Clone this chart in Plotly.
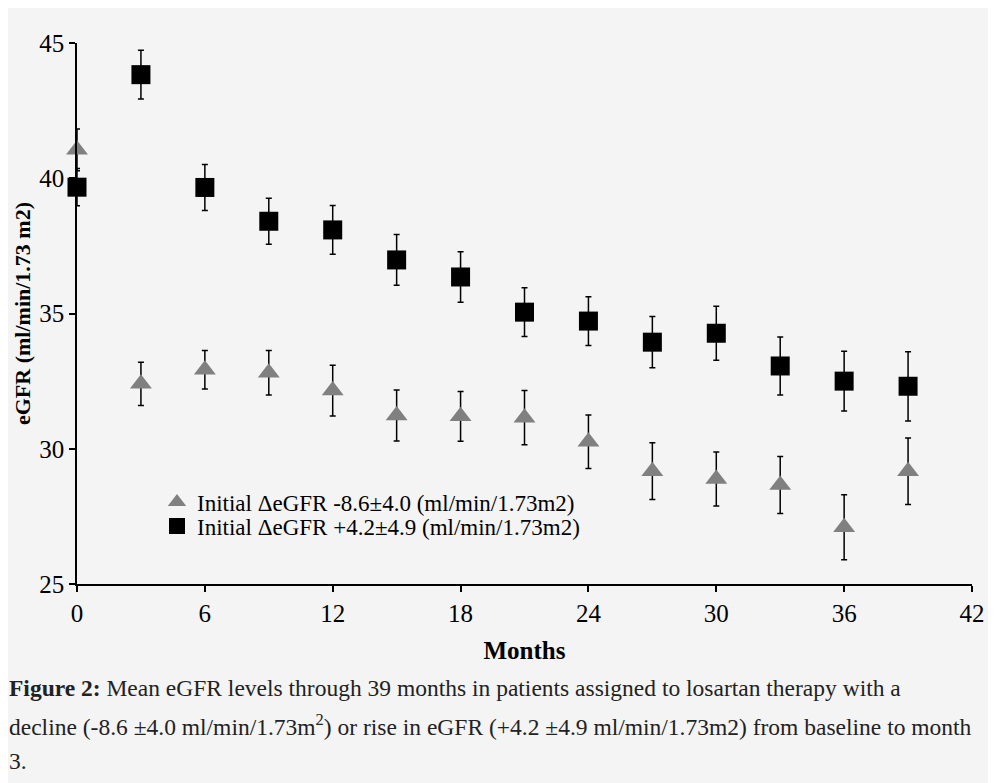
import plotly.graph_objects as go

months = [0, 3, 6, 9, 12, 15, 18, 21, 24, 27, 30, 33, 36, 39]

decline_mean = [41.05, 32.40, 32.92, 32.81, 32.15, 31.23, 31.20, 31.15, 30.26, 29.17, 28.88, 28.66, 27.10, 29.17]
decline_err = [0.77, 0.80, 0.71, 0.82, 0.94, 0.94, 0.92, 1.00, 0.99, 1.05, 1.00, 1.05, 1.20, 1.23]

rise_mean = [39.67, 43.83, 39.66, 38.41, 38.09, 36.98, 36.35, 35.05, 34.72, 33.94, 34.27, 33.06, 32.50, 32.31]
rise_err = [0.69, 0.90, 0.85, 0.85, 0.90, 0.94, 0.93, 0.90, 0.90, 0.95, 1.00, 1.07, 1.10, 1.28]

x_ticks = [0, 6, 12, 18, 24, 30, 36, 42]
y_ticks = [25, 30, 35, 40, 45]

legend_decline = "Initial \u0394eGFR -8.6\u00b14.0 (ml/min/1.73m2)"
legend_rise = "Initial \u0394eGFR +4.2\u00b14.9 (ml/min/1.73m2)"

caption_lines = [
    "<b>Figure 2:</b> Mean eGFR levels through 39 months in patients assigned to losartan therapy with a",
    "decline (-8.6 \u00b14.0 ml/min/1.73m<sup>2</sup>) or rise in eGFR (+4.2 \u00b14.9 ml/min/1.73m2) from baseline to month",
    "3.",
]

FONT = "Liberation Serif, Times New Roman, serif"
BG = "#f4f4f4"

# page body has an 8px margin; work in screen pixels and convert
OFF = 8
W, H = 996 - OFF, 783 - OFF
ml, mt = 77 - OFF, 43 - OFF
mr = 996 - 972
mb = 783 - 584
pw = W - ml - mr
ph = H - mt - mb


def sy(py):  # screen px -> paper y
    return (H - mb - (py - OFF)) / ph


def sx(px):  # screen px -> paper x
    return (px - OFF - ml) / pw


fig = go.Figure()
fig.add_trace(go.Scatter(
    x=months, y=decline_mean, mode="markers", name=legend_decline, legend="legend",
    marker=dict(symbol="triangle-up", size=19, color="#808080"),
    error_y=dict(type="data", array=decline_err, color="black", thickness=1.5, width=3),
    cliponaxis=False,
))
fig.add_trace(go.Scatter(
    x=months, y=rise_mean, mode="markers", name=legend_rise, legend="legend2",
    marker=dict(symbol="square", size=19, color="black"),
    error_y=dict(type="data", array=rise_err, color="black", thickness=1.5, width=3),
    cliponaxis=False,
))

annotations = []
for line, py in zip(caption_lines, [688, 725, 761]):
    annotations.append(dict(
        text=line, xref="paper", yref="paper",
        x=sx(8), y=sy(py), xanchor="left", yanchor="middle",
        showarrow=False, align="left", borderpad=0,
        font=dict(family=FONT, size=23.5, color="#222222"),
    ))

leg_common = dict(
    xanchor="left", yanchor="middle", bgcolor="rgba(0,0,0,0)",
    font=dict(family=FONT, size=23, color="black"), itemwidth=30, borderwidth=0,
)

fig.update_layout(
    width=W, height=H,
    margin=dict(l=ml, r=mr, t=mt, b=mb),
    paper_bgcolor=BG, plot_bgcolor=BG,
    font=dict(family=FONT, color="black"),
    showlegend=True,
    legend=dict(x=sx(157), y=sy(502), **leg_common),
    legend2=dict(x=sx(157), y=sy(526), **leg_common),
    xaxis=dict(
        range=[0, 42], tickvals=x_ticks, ticktext=[str(v) for v in x_ticks],
        showgrid=False, zeroline=False, showline=True, linecolor="black", linewidth=1.5,
        ticks="outside", ticklen=6, tickcolor="black", tickwidth=1.5, automargin=False,
        tickfont=dict(family=FONT, size=25, color="black"),
        title=dict(text="<b>Months</b>", font=dict(family=FONT, size=25, color="black"), standoff=16),
    ),
    yaxis=dict(
        range=[25, 45], tickvals=y_ticks, ticktext=[str(v) for v in y_ticks],
        showgrid=False, zeroline=False, showline=True, linecolor="black", linewidth=1.5,
        ticks="outside", ticklen=6, tickcolor="black", tickwidth=1.5, automargin=False,
        tickfont=dict(family=FONT, size=25, color="black"),
        title=dict(text="<b>eGFR (ml/min/1.73 m2)</b>", font=dict(family=FONT, size=22, color="black"), standoff=3),
    ),
    annotations=annotations,
)

fig.write_html("out.html")
